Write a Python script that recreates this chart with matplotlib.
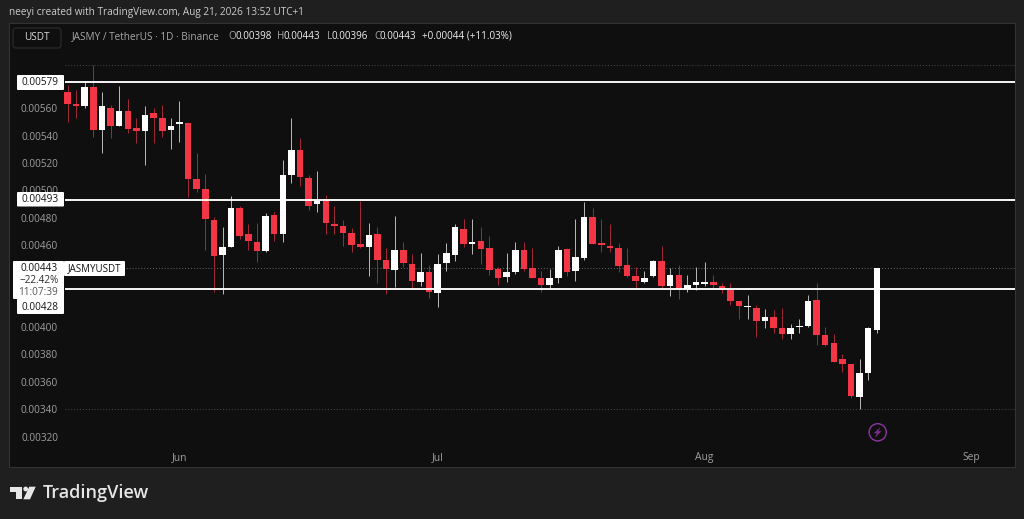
import numpy as np
import pandas as pd
import matplotlib
matplotlib.use("Agg")
import matplotlib.pyplot as plt
import matplotlib.dates as mdates
from matplotlib.patches import Circle, FancyBboxPatch, Polygon

plt.rcParams["font.family"] = ["Open Sans", "DejaVu Sans"]

# daily candles, in 1e-5 USDT
opens = [571.8, 563.1, 561.9, 575.4, 543.9, 560.2, 546.8, 558.0, 545.4, 543.2,
         556.3, 553.1, 543.9, 548.3, 549.0, 508.3, 501.2, 478.3, 452.7, 458.8,
         487.1, 468.1, 462.5, 455.7, 482.0, 468.1, 511.0, 529.3, 509.0, 490.0,
         493.5, 475.4, 474.0, 469.0, 460.5, 458.8, 468.1, 449.1, 442.0, 456.2,
         446.2, 433.0, 440.1, 424.9, 447.1, 453.0, 471.9, 461.0, 463.2, 458.1,
         442.5, 436.9, 440.1, 456.2, 443.0, 435.9, 430.6, 435.7, 457.3, 440.8,
         450.8, 480.3, 461.3, 459.3, 458.1, 445.2, 437.2, 433.0, 437.2, 448.2,
         430.1, 438.2, 428.2, 430.8, 431.8, 433.2, 430.3, 427.9, 419.4, 415.0,
         414.2, 404.7, 407.2, 399.1, 394.7, 399.9, 400.6, 420.1, 394.1, 388.2,
         376.5, 372.8, 348.9, 366.6, 398.0]
highs = [577.0, 573.4, 580.2, 591.7, 571.7, 562.4, 576.3, 566.6, 553.1, 561.5,
         560.0, 562.4, 553.1, 565.3, 550.2, 527.1, 512.0, 480.2, 473.4, 495.9,
         488.6, 475.4, 476.3, 483.2, 484.0, 522.2, 553.1, 538.5, 511.2, 514.2,
         496.4, 488.6, 478.3, 472.2, 492.2, 476.3, 473.4, 457.6, 481.2, 462.5,
         453.5, 454.2, 445.4, 453.5, 461.3, 475.4, 478.9, 478.9, 473.4, 466.3,
         443.7, 454.0, 462.5, 462.5, 457.6, 441.0, 442.3, 459.3, 458.1, 478.9,
         491.3, 486.9, 478.9, 475.4, 461.3, 457.6, 443.7, 441.0, 449.1, 459.3,
         443.1, 445.4, 438.2, 443.7, 447.4, 438.2, 432.0, 432.5, 419.4, 423.5,
         416.3, 413.2, 412.5, 414.2, 402.3, 406.0, 423.5, 432.5, 399.9, 394.9,
         380.2, 372.8, 376.7, 399.9, 443.0]
lows = [550.2, 553.1, 560.4, 539.2, 527.5, 538.5, 546.8, 542.2, 534.4, 518.5,
        534.4, 539.2, 530.0, 535.1, 495.4, 498.6, 456.5, 425.9, 424.2, 458.8,
        464.2, 456.4, 447.4, 455.1, 463.2, 462.5, 505.6, 503.2, 485.6, 484.4,
        468.1, 468.1, 459.3, 455.1, 457.6, 437.4, 432.5, 424.0, 429.4, 443.7,
        427.9, 430.1, 421.1, 415.0, 441.3, 448.3, 458.4, 453.5, 446.2, 438.2,
        430.8, 432.9, 438.9, 441.0, 435.7, 425.9, 428.9, 432.5, 437.4, 433.9,
        449.1, 460.8, 455.1, 455.1, 440.5, 436.5, 428.9, 432.5, 436.9, 427.7,
        423.0, 420.4, 425.9, 427.4, 430.3, 427.7, 425.2, 416.3, 406.0, 405.8,
        393.0, 399.6, 395.9, 391.1, 391.1, 395.9, 399.9, 386.9, 386.2, 374.3,
        367.4, 347.9, 339.9, 361.3, 396.0]
closes = [562.9, 561.9, 575.4, 544.1, 561.5, 547.1, 558.0, 545.1, 543.2, 555.1,
          552.7, 543.2, 547.3, 550.2, 508.1, 501.0, 478.8, 452.2, 458.4, 487.1,
          466.8, 463.0, 455.7, 481.2, 468.1, 511.2, 529.3, 509.8, 488.8, 492.2,
          475.9, 473.7, 468.8, 460.0, 458.8, 467.2, 448.8, 442.3, 456.2, 447.1,
          433.7, 440.1, 425.9, 445.9, 454.0, 473.2, 461.0, 462.5, 457.1, 442.0,
          435.7, 440.3, 456.2, 442.7, 435.7, 430.8, 435.9, 456.2, 440.1, 451.0,
          480.3, 461.0, 460.0, 457.9, 444.9, 437.2, 434.0, 435.9, 448.2, 430.1,
          438.2, 427.7, 431.0, 433.2, 433.2, 430.8, 428.9, 419.2, 415.7, 415.5,
          404.7, 407.2, 399.1, 394.7, 399.1, 401.0, 419.4, 394.1, 386.7, 374.7,
          372.8, 349.8, 366.2, 399.1, 443.0]

dates = pd.date_range("2026-05-19", periods=len(opens))
month_ticks = ["2026-06-01", "2026-07-01", "2026-08-01", "2026-09-01"]
month_labels = ["Jun", "Jul", "Aug", "Sep"]
# 0.00440 and 0.00420 sit behind the price tags in the reference
price_ticks = [0.0032, 0.0034, 0.0036, 0.0038, 0.0040,
               0.0046, 0.0048, 0.0050, 0.0052, 0.0054, 0.0056]
levels = [0.00579, 0.00493, 0.00428]
last_price = 0.00443
high_mark = 0.005917
low_mark = 0.00340

BG = "#1f1f1f"
PANEL = "#0f0f0f"
RED = "#f23645"
WHITE = "#ffffff"


def draw_candles(ax):
    o = np.array(opens) / 1e5
    h = np.array(highs) / 1e5
    l = np.array(lows) / 1e5
    c = np.array(closes) / 1e5
    x = mdates.date2num(dates)
    up = c >= o
    ax.vlines(x[up], l[up], h[up], color="#b4b4b4", lw=0.72, zorder=3)
    ax.vlines(x[~up], l[~up], h[~up], color="#9c2735", lw=0.72, zorder=3)
    ax.bar(x[up], (c - o)[up], bottom=o[up], width=0.76, color=WHITE, lw=0, zorder=4)
    ax.bar(x[~up], (c - o)[~up], bottom=o[~up], width=0.76, color=RED, lw=0, zorder=4)


def draw_chrome(px):
    # header line and legend
    px.text(9, 13, "neeyi created with TradingView.com, Aug 21, 2026 13:52 UTC+1",
            color="#cccccc", fontsize=7.2, va="center")
    px.add_patch(FancyBboxPatch((13, 28), 48, 20, boxstyle="round,pad=0,rounding_size=3",
                                fc=PANEL, ec="#2e2e2e", lw=0.8))
    px.text(37, 37.5, "USDT", color="#d8d8d8", fontsize=7.2, ha="center", va="center")
    px.text(72, 36.5, "JASMY / TetherUS · 1D · Binance", color="#a8a8a8", fontsize=7.2, va="center")
    for xpos, txt, col in [(228, "O", "#a8a8a8"), (235.5, "0.00398", "#eeeeee"),
                           (277, "H", "#a8a8a8"), (284, "0.00443", "#eeeeee"),
                           (326.5, "L", "#a8a8a8"), (332, "0.00396", "#eeeeee"),
                           (374, "C", "#a8a8a8"), (380, "0.00443", "#eeeeee"),
                           (422, "+0.00044 (+11.03%)", "#eeeeee")]:
        px.text(xpos, 36.5, txt, color=col, fontsize=7.1, va="center")

    # price tags on the left
    tags = [(17, 75, 47, 15, "0.00579"), (17, 192, 47, 14.5, "0.00493")]
    for x0, y0, w, hgt, txt in tags:
        px.add_patch(FancyBboxPatch((x0, y0), w, hgt, boxstyle="round,pad=0,rounding_size=1",
                                    fc=WHITE, ec="none", zorder=6))
        px.text(x0 + w / 2, y0 + hgt / 2, txt, color="#131313", fontsize=7.2,
                ha="center", va="center", zorder=7)
    px.add_patch(FancyBboxPatch((17, 298), 47, 16, boxstyle="round,pad=0,rounding_size=1",
                                fc=WHITE, ec="none", zorder=6))
    px.text(39.5, 307, "0.00428", color="#131313", fontsize=7.2, ha="center", va="center", zorder=7)
    px.add_patch(FancyBboxPatch((13, 261), 51, 38, boxstyle="round,pad=0,rounding_size=1",
                                fc=WHITE, ec="none", zorder=6))
    px.text(39, 268.5, "0.00443", color="#131313", fontsize=7.2, ha="center", va="center", zorder=7)
    px.text(39, 280.5, "−22.42%", color="#2a2a2a", fontsize=7.2, ha="center", va="center", zorder=7)
    px.text(37.5, 292.5, "11:07:39", color="#555555", fontsize=7.2, ha="center", va="center", zorder=7)
    px.add_patch(FancyBboxPatch((64, 261), 61, 15, boxstyle="round,pad=0,rounding_size=1",
                                fc=WHITE, ec="none", zorder=6))
    px.text(95, 268.5, "JASMYUSDT", color="#131313", fontsize=7, ha="center", va="center", zorder=7)

    # lightning marker
    px.add_patch(Circle((877.7, 432.3), 8.6, fc="none", ec="#8e35a5", lw=1.0, zorder=6))
    px.add_patch(Polygon([(880.5, 427), (873.8, 433.2), (876.8, 433.2), (875, 437.6),
                          (881.5, 431.2), (878.4, 431.2)], fc="#7a2d8c", ec="none", zorder=6))

    # TradingView mark
    logo = "#e6e6e6"
    px.add_patch(Polygon([(10, 486.7), (21.7, 486.7), (21.7, 499.3), (16, 499.3),
                          (16, 491.7), (10, 491.7)], fc=logo, ec="none"))
    px.add_patch(Circle((25.7, 489), 2.4, fc=logo, ec="none"))
    px.add_patch(Polygon([(29.3, 486.7), (35.7, 486.7), (30, 499.3), (23.3, 499.3)], fc=logo, ec="none"))
    px.text(42.5, 493, "TradingView", color=logo, fontsize=13, fontweight="semibold", va="center")


def main():
    fig = plt.figure(figsize=(10.24, 5.19), dpi=100, facecolor=BG)

    # the panel runs from x 9 to 1015 and y 23 to 467 in image pixels
    ax = fig.add_axes([9 / 1024, 1 - 467 / 519, 1006 / 1024, 444 / 519], facecolor=PANEL)
    draw_candles(ax)

    start = mdates.date2num(dates[0])
    ax.set_xlim(start - 6.8, start + 110.05)
    ax.set_ylim(0.002977, 0.006224)

    line_start = 56 / 1006
    for lvl in levels:
        ax.plot([line_start, 1], [lvl, lvl], transform=ax.get_yaxis_transform(),
                color=WHITE, lw=1.35, zorder=5, solid_capstyle="butt")
    for lvl, col in [(high_mark, "#4a4a4a"), (last_price, "#6a6a6a"), (low_mark, "#4a4a4a")]:
        ax.plot([line_start, 1], [lvl, lvl], transform=ax.get_yaxis_transform(),
                color=col, lw=0.7, ls=(0, (1, 2)), zorder=2)

    for p in price_ticks:
        ax.text(30.5 / 1006, p, f"{p:.5f}", transform=ax.get_yaxis_transform(),
                color="#a0a0a0", fontsize=7.2, ha="center", va="center_baseline")

    ax.set_xticks(mdates.date2num(pd.to_datetime(month_ticks)), month_labels)
    ax.set_yticks([])
    ax.tick_params(axis="x", length=0, pad=-11, labelsize=7.4, labelcolor="#a0a0a0")
    for spine in ax.spines.values():
        spine.set_color("#333333")
        spine.set_linewidth(0.8)

    # overlay in image pixels for the interface furniture
    px = fig.add_axes([0, 0, 1, 1], facecolor="none")
    px.set_xlim(0, 1024)
    px.set_ylim(519, 0)
    px.axis("off")
    draw_chrome(px)

    fig.savefig("out.png", dpi=100, facecolor=BG)


if __name__ == "__main__":
    main()
